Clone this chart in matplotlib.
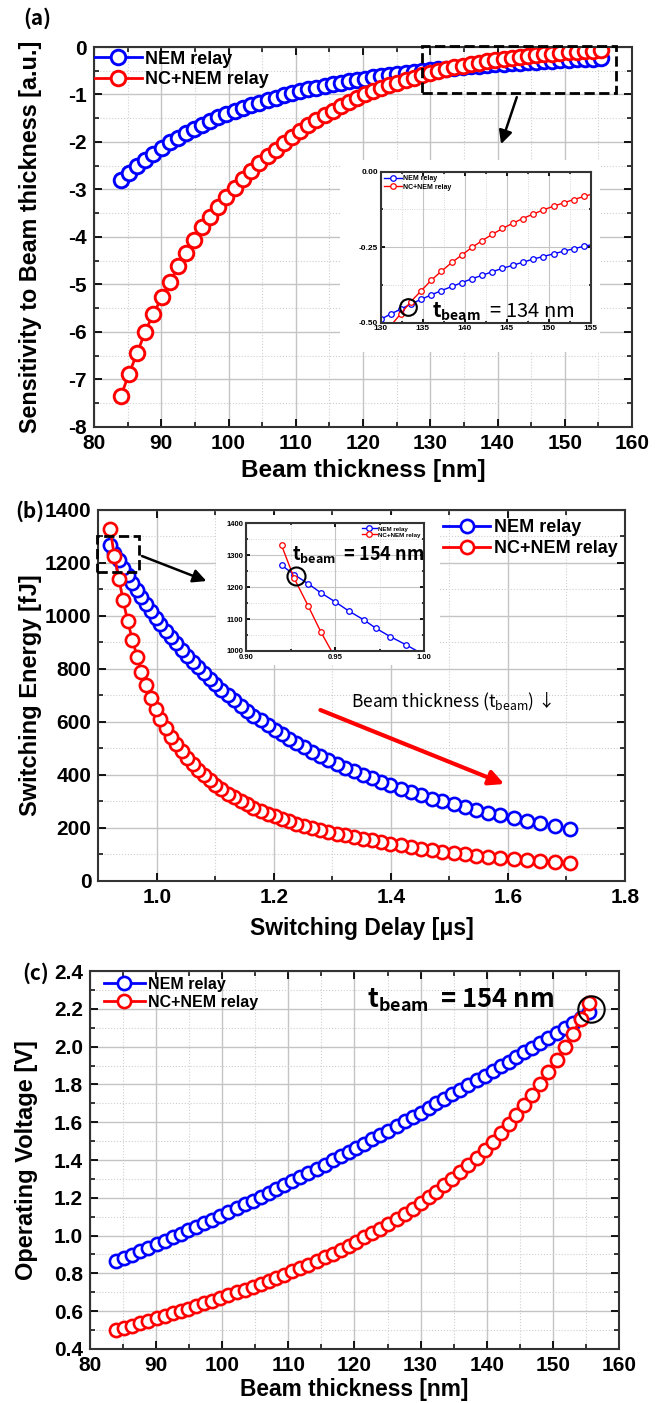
import matplotlib
matplotlib.use("Agg")
import matplotlib.pyplot as plt
from matplotlib.patches import Rectangle
from matplotlib.ticker import MultipleLocator, FormatStrFormatter

plt.rcParams.update({
    "font.family": ["Liberation Sans", "DejaVu Sans"],
    "font.weight": "bold",
    "axes.labelweight": "bold",
    "axes.unicode_minus": False,
    "mathtext.fontset": "custom",
    "mathtext.rm": "Noto Sans CJK KR",
    "mathtext.bf": "Noto Sans CJK KR:bold",
    "mathtext.it": "Noto Sans CJK KR",
})
CJK = ["Noto Sans CJK KR", "DejaVu Sans"]
BLUE = "#0000ff"
RED = "#ff0000"

# ---- data -------------------------------------------------------------
thickness = [84.0, 85.2, 86.4, 87.6, 88.8, 90.1, 91.3, 92.5, 93.7, 94.9,
             96.1, 97.3, 98.5, 99.7, 100.9, 102.2, 103.4, 104.6, 105.8, 107.0,
             108.2, 109.4, 110.6, 111.8, 113.0, 114.3, 115.5, 116.7, 117.9, 119.1,
             120.3, 121.5, 122.7, 123.9, 125.1, 126.4, 127.6, 128.8, 130.0, 131.2,
             132.4, 133.6, 134.8, 136.0, 137.2, 138.5, 139.7, 140.9, 142.1, 143.3,
             144.5, 145.7, 146.9, 148.1, 149.3, 150.6, 151.8, 153.0, 154.2, 155.4]

sens_nem = [-2.81, -2.65, -2.51, -2.37, -2.25, -2.12, -2.01, -1.91, -1.81, -1.72,
            -1.64, -1.56, -1.48, -1.41, -1.35, -1.28, -1.22, -1.17, -1.11, -1.07,
            -1.02, -0.975, -0.934, -0.894, -0.857, -0.818, -0.785, -0.753, -0.723, -0.694,
            -0.667, -0.641, -0.616, -0.593, -0.570, -0.547, -0.527, -0.508, -0.489, -0.471,
            -0.455, -0.438, -0.423, -0.408, -0.394, -0.380, -0.367, -0.354, -0.343, -0.331,
            -0.320, -0.310, -0.300, -0.290, -0.281, -0.272, -0.263, -0.255, -0.247, -0.240]

sens_nc = [-7.35, -6.88, -6.45, -6.00, -5.62, -5.27, -4.95, -4.62, -4.33, -4.06,
           -3.80, -3.58, -3.36, -3.16, -2.97, -2.78, -2.61, -2.45, -2.30, -2.16,
           -2.02, -1.89, -1.77, -1.65, -1.54, -1.44, -1.34, -1.25, -1.16, -1.08,
           -1.00, -0.935, -0.87, -0.81, -0.755, -0.70, -0.65, -0.60, -0.55, -0.51,
           -0.47, -0.43, -0.395, -0.36, -0.33, -0.30, -0.275, -0.25, -0.228, -0.207,
           -0.188, -0.171, -0.155, -0.141, -0.127, -0.114, -0.103, -0.092, -0.082, -0.072]

delay_us = [1.706, 1.680, 1.655, 1.632, 1.610, 1.587, 1.566, 1.546, 1.526, 1.507,
            1.488, 1.470, 1.452, 1.434, 1.417, 1.399, 1.383, 1.367, 1.352, 1.336,
            1.322, 1.307, 1.293, 1.279, 1.265, 1.251, 1.238, 1.225, 1.213, 1.201,
            1.189, 1.177, 1.165, 1.154, 1.143, 1.131, 1.121, 1.110, 1.100, 1.090,
            1.080, 1.070, 1.061, 1.051, 1.042, 1.032, 1.024, 1.015, 1.006, 0.998,
            0.990, 0.981, 0.973, 0.966, 0.958, 0.950, 0.942, 0.935, 0.927, 0.920]

energy_nem = [197, 208, 218, 227, 237, 247, 257, 267, 278, 289,
              300, 311, 323, 335, 347, 361, 374, 387, 400, 414,
              428, 442, 457, 472, 488, 505, 521, 537, 554, 571,
              588, 606, 624, 643, 662, 682, 702, 722, 742, 763,
              784, 806, 828, 850, 873, 898, 921, 945, 970, 994,
              1019, 1045, 1071, 1098, 1124, 1154, 1182, 1210, 1239, 1268]

energy_nc = [66, 70, 74, 78, 82, 87, 91, 96, 101, 106,
             111, 116, 122, 128, 134, 140, 146, 153, 159, 166,
             172, 179, 186, 193, 200, 208, 216, 225, 234, 244,
             254, 265, 277, 289, 302, 316, 330, 346, 362, 380,
             399, 419, 441, 464, 489, 516, 545, 577, 612, 650,
             692, 738, 790, 847, 910, 980, 1060, 1140, 1228, 1330]

volt_nem = [0.865, 0.882, 0.899, 0.917, 0.935, 0.954, 0.972, 0.990, 1.009, 1.028,
            1.047, 1.066, 1.085, 1.104, 1.124, 1.145, 1.165, 1.185, 1.205, 1.226,
            1.247, 1.268, 1.289, 1.310, 1.331, 1.354, 1.376, 1.398, 1.420, 1.442,
            1.465, 1.487, 1.510, 1.533, 1.556, 1.581, 1.604, 1.628, 1.651, 1.675,
            1.699, 1.723, 1.747, 1.771, 1.795, 1.822, 1.846, 1.871, 1.895, 1.920,
            1.945, 1.970, 1.995, 2.020, 2.045, 2.073, 2.098, 2.123, 2.149, 2.185]

volt_nc = [0.500, 0.512, 0.524, 0.537, 0.549, 0.562, 0.575, 0.588, 0.601, 0.614,
           0.628, 0.641, 0.655, 0.669, 0.684, 0.699, 0.714, 0.729, 0.745, 0.761,
           0.777, 0.794, 0.811, 0.829, 0.847, 0.866, 0.885, 0.905, 0.925, 0.946,
           0.968, 0.990, 1.013, 1.037, 1.062, 1.088, 1.115, 1.143, 1.172, 1.202,
           1.233, 1.266, 1.300, 1.336, 1.373, 1.412, 1.453, 1.496, 1.541, 1.588,
           1.638, 1.690, 1.745, 1.803, 1.864, 1.929, 1.997, 2.069, 2.145, 2.230]

series_labels = ["NEM relay", "NC+NEM relay"]


def style(ax, xmaj, xmin, ymaj, ymin, size=15, tl=6, grid_lw=1.0, pad=5):
    ax.xaxis.set_major_locator(MultipleLocator(xmaj))
    ax.xaxis.set_minor_locator(MultipleLocator(xmin))
    ax.yaxis.set_major_locator(MultipleLocator(ymaj))
    ax.yaxis.set_minor_locator(MultipleLocator(ymin))
    ax.set_axisbelow(True)
    ax.grid(which="major", color="#c4c4c4", lw=grid_lw, ls="-")
    ax.grid(which="minor", color="#cfcfcf", lw=grid_lw * 0.8, ls=":")
    ax.tick_params(which="both", direction="in", top=True, right=True,
                   labelsize=size, pad=pad)
    ax.tick_params(which="major", length=tl, width=1.3)
    ax.tick_params(which="minor", length=tl * 0.6, width=1.1)
    for s in ax.spines.values():
        s.set_linewidth(1.5)
        s.set_color("#333333")


def curves(ax, x, y1, y2, ms, mew, lw):
    ax.plot(x, y1, "-o", color=BLUE, ms=ms, mew=mew, mfc="white", lw=lw,
            label=series_labels[0])
    ax.plot(x, y2, "-o", color=RED, ms=ms, mew=mew, mfc="white", lw=lw,
            label=series_labels[1])


fig = plt.figure(figsize=(6.64, 14.03), dpi=100)

# ---- (a) sensitivity ---------------------------------------------------
ax_a = fig.add_axes([0.1416, 0.6957, 0.8102, 0.2708])
curves(ax_a, thickness, sens_nem, sens_nc, ms=10.5, mew=2.1, lw=2)
ax_a.set_xlim(80, 160)
ax_a.set_ylim(-8, 0)
style(ax_a, 10, 5, 1, 0.5)
ax_a.set_xlabel("Beam thickness [nm]", fontsize=17.5)
ax_a.set_ylabel("Sensitivity to Beam thickness [a.u.]", fontsize=16.8)
ax_a.xaxis.set_label_coords(0.5, -0.085)
ax_a.yaxis.set_label_coords(-0.097, 0.5)
ax_a.legend(loc="upper left", bbox_to_anchor=(-0.005, 1.0), frameon=False,
            fontsize=13, handlelength=2.6, handletextpad=0.2, labelspacing=0.2,
            borderpad=0.2, borderaxespad=0)
ax_a.add_patch(Rectangle((128.8, -0.97), 28.8, 1.0, fill=False, ls="--", lw=2,
                         ec="black", clip_on=False, zorder=6))
ax_a.annotate("", xy=(140.4, -2.1), xytext=(143.0, -1.0),
              arrowprops=dict(arrowstyle="-|>", color="black", lw=1.8,
                              mutation_scale=20))

fig.add_artist(Rectangle((0.512, 0.7491), 0.392, 0.1368,
                         transform=fig.transFigure, fc="white", ec="none", zorder=1))

ax_ia = fig.add_axes([0.5733, 0.7700, 0.3163, 0.1076])
ax_ia.set_zorder(2)
curves(ax_ia, thickness, sens_nem, sens_nc, ms=4, mew=0.9, lw=1)
ax_ia.set_xlim(130, 155)
ax_ia.set_ylim(-0.5, 0.0)
style(ax_ia, 5, 2.5, 0.25, 0.125, size=6, tl=3, grid_lw=0.8, pad=2)
ax_ia.yaxis.set_major_formatter(FormatStrFormatter("%.2f"))
ax_ia.legend(loc="upper left", frameon=False, fontsize=5, handlelength=2.5,
             handletextpad=0.2, labelspacing=0.2, borderaxespad=0.1)
ax_ia.plot(133.3, -0.447, "o", ms=12, mfc="none", mec="black", mew=1.5)
ax_ia.text(136.1, -0.462, r"$\mathrm{t_{beam}}$  = 134 nm", fontsize=14.5,
           family=CJK, weight="medium", va="center", ha="left")

# ---- (b) switching energy ----------------------------------------------
ax_b = fig.add_axes([0.1483, 0.3721, 0.7929, 0.2644])
curves(ax_b, delay_us, energy_nem, energy_nc, ms=9.5, mew=1.9, lw=2)
ax_b.set_xlim(0.9, 1.8)
ax_b.set_ylim(0, 1400)
style(ax_b, 0.2, 0.1, 200, 100)
ax_b.xaxis.set_major_formatter(FormatStrFormatter("%.1f"))
ax_b.set_xlabel("Switching Delay [μs]", fontsize=16.5)
ax_b.set_ylabel("Switching Energy [fJ]", fontsize=17)
ax_b.xaxis.set_label_coords(0.5, -0.098)
ax_b.yaxis.set_label_coords(-0.107, 0.5)
ax_b.legend(loc="upper left", bbox_to_anchor=(0.655, 0.975), frameon=False,
            fontsize=13, handlelength=2.6, handletextpad=0.2, labelspacing=0.2,
            borderpad=0, borderaxespad=0)
ax_b.add_patch(Rectangle((0.898, 1165), 0.072, 137, fill=False, ls="--", lw=2,
                         ec="black", clip_on=False, zorder=6))
ax_b.annotate("", xy=(1.089, 1128), xytext=(0.970, 1230),
              arrowprops=dict(arrowstyle="-|>", color="black", lw=1.8,
                              mutation_scale=20))
ax_b.annotate("", xy=(1.598, 362), xytext=(1.275, 649),
              arrowprops=dict(arrowstyle="-|>", color=RED, lw=3,
                              mutation_scale=22))
ax_b.text(1.332, 676, r"Beam thickness ($\mathrm{t_{beam}}$) ↓", fontsize=12.5,
          family=CJK, weight="medium", va="center", ha="left")

fig.add_artist(Rectangle((0.3253, 0.526), 0.338, 0.1069,
                         transform=fig.transFigure, fc="white", ec="none", zorder=1))

ax_ib = fig.add_axes([0.3705, 0.5360, 0.2681, 0.0912])
ax_ib.set_zorder(2)
curves(ax_ib, delay_us, energy_nem, energy_nc, ms=4, mew=0.9, lw=1)
ax_ib.set_xlim(0.90, 1.00)
ax_ib.set_ylim(1000, 1400)
style(ax_ib, 0.05, 0.025, 100, 50, size=5.5, tl=3, grid_lw=0.8, pad=2)
ax_ib.xaxis.set_major_formatter(FormatStrFormatter("%.2f"))
ax_ib.legend(loc="upper right", frameon=False, fontsize=4.5, handlelength=2.5,
             handletextpad=0.2, labelspacing=0.1, borderaxespad=0.1)
ax_ib.plot(0.928, 1235, "o", ms=13, mfc="none", mec="black", mew=1.5)
ax_ib.text(0.926, 1300, r"$\mathbf{t_{beam}}$  = 154 nm", fontsize=13,
           family=CJK, weight="bold", va="center", ha="left")

# ---- (c) operating voltage ---------------------------------------------
ax_c = fig.add_axes([0.1355, 0.0385, 0.7967, 0.2694])
curves(ax_c, thickness, volt_nem, volt_nc, ms=9.5, mew=1.9, lw=2)
ax_c.set_xlim(80, 160)
ax_c.set_ylim(0.4, 2.4)
style(ax_c, 10, 5, 0.2, 0.1)
ax_c.yaxis.set_major_formatter(FormatStrFormatter("%.1f"))
ax_c.set_xlabel("Beam thickness [nm]", fontsize=16.4)
ax_c.set_ylabel("Operating Voltage [V]", fontsize=17)
ax_c.xaxis.set_label_coords(0.5, -0.076)
ax_c.yaxis.set_label_coords(-0.098, 0.5)
ax_c.legend(loc="upper left", bbox_to_anchor=(0.026, 0.985), frameon=False,
            fontsize=11.5, handlelength=2.6, handletextpad=0.2, labelspacing=0.2,
            borderpad=0, borderaxespad=0)
ax_c.plot(155.8, 2.20, "o", ms=19, mfc="none", mec="black", mew=1.5)
ax_c.text(121.9, 2.247, r"$\mathbf{t_{beam}}$  = 154 nm", fontsize=18.5,
          family=CJK, weight="bold", va="center", ha="left")

# ---- panel labels ------------------------------------------------------
for lab, (x, y) in {"(a)": (37, 18), "(b)": (30, 511), "(c)": (36, 973)}.items():
    fig.text(x / 664, 1 - y / 1403, lab, fontsize=15, family=CJK, weight="bold",
             ha="center", va="center")

fig.savefig("out.png", dpi=100)
